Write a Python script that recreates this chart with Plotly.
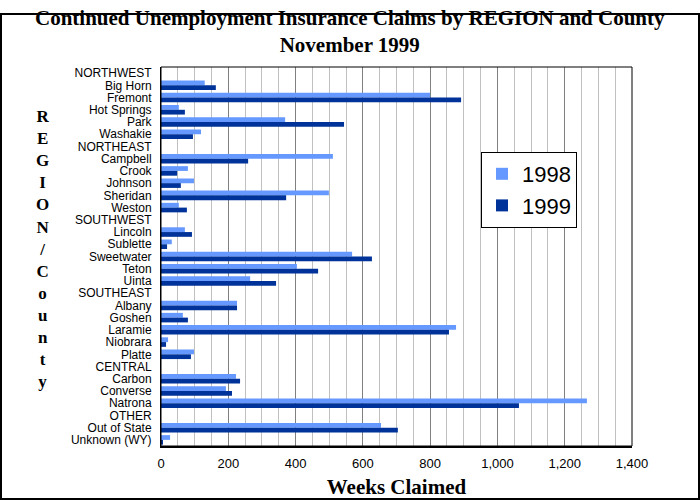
import plotly.graph_objects as go

# rows as they appear top to bottom; region headers carry no bars
rows = ['NORTHWEST', 'Big Horn', 'Fremont', 'Hot Springs', 'Park', 'Washakie',
        'NORTHEAST', 'Campbell', 'Crook', 'Johnson', 'Sheridan', 'Weston',
        'SOUTHWEST', 'Lincoln', 'Sublette', 'Sweetwater', 'Teton', 'Uinta',
        'SOUTHEAST', 'Albany', 'Goshen', 'Laramie', 'Niobrara', 'Platte',
        'CENTRAL', 'Carbon', 'Converse', 'Natrona',
        'OTHER', 'Out of State', 'Unknown (WY)']

weeks_1998 = [None, 130, 800, 53, 369, 119,
              None, 511, 80, 98, 499, 53,
              None, 71, 32, 568, 404, 265,
              None, 226, 65, 877, 21, 98,
              None, 223, 193, 1266,
              None, 654, 27]

weeks_1999 = [None, 163, 892, 71, 544, 95,
              None, 259, 48, 59, 372, 77,
              None, 92, 18, 627, 467, 342,
              None, 226, 80, 856, 15, 89,
              None, 235, 211, 1064,
              None, 704, 6]

x_ticks = [0, 200, 400, 600, 800, 1000, 1200, 1400]

W, H = 700, 500
L, R, T, B = 161, 68, 67, 54
pw, ph = W - L - R, H - T - B

fig = go.Figure()
fig.add_trace(go.Bar(y=rows, x=weeks_1998, name='1998', orientation='h',
                     marker=dict(color='#6699FF', line=dict(width=0))))
fig.add_trace(go.Bar(y=rows, x=weeks_1999, name='1999', orientation='h',
                     marker=dict(color='#003399', line=dict(width=0))))

fig.update_layout(
    width=W, height=H,
    margin=dict(l=L, r=R, t=T, b=B, autoexpand=False),
    paper_bgcolor='white', plot_bgcolor='white',
    barmode='group', bargap=0.22, bargroupgap=0,
    legend=dict(x=(481 - L) / pw, y=(H - B - 152) / ph, xanchor='left', yanchor='top',
                bgcolor='white', bordercolor='black', borderwidth=1,
                font=dict(family='Liberation Sans', size=22, color='black'),
                tracegroupgap=0),
    showlegend=True,
)

fig.update_xaxes(range=[0, 1400], tickvals=x_ticks, tickformat=',',
                 showgrid=True, gridcolor='#808080', gridwidth=1,
                 minor=dict(dtick=50, showgrid=True, gridcolor='#C0C0C0', gridwidth=1),
                 showline=True, linecolor='black', linewidth=2,
                 zeroline=False, ticks='', automargin=False, ticklabelstandoff=4,
                 tickfont=dict(family='Liberation Sans', size=13, color='black'),
                 title=dict(text='Weeks Claimed', standoff=10,
                            font=dict(family='Liberation Serif', size=21, color='black', weight='bold')))
fig.update_yaxes(categoryorder='array', categoryarray=rows, autorange='reversed',
                 dtick=1, showgrid=False, showline=True, linecolor='black', linewidth=1,
                 ticks='', ticklabelstandoff=6, automargin=False,
                 tickfont=dict(family='Liberation Sans', size=12, color='black'))

# plot frame (top/right) and outer picture frame
fig.add_shape(type='rect', xref='paper', yref='paper', x0=0, x1=1, y0=0, y1=1,
              line=dict(color='black', width=1))
fig.add_shape(type='rect', xref='paper', yref='paper',
              x0=-(L - 1) / pw, x1=(W - 1 - L) / pw,
              y0=-(B - 1) / ph, y1=(H - T - 1) / ph,
              line=dict(color='black', width=2))

# two-line title
fig.add_annotation(text='Continued Unemployment Insurance Claims by REGION and County<br>November 1999',
                   xref='paper', yref='paper', x=(350 - L) / pw, y=(H - B - 4) / ph,
                   xanchor='center', yanchor='top', showarrow=False, align='center',
                   font=dict(family='Liberation Serif', size=21, color='black', weight='bold'))

# stacked vertical axis title
fig.add_annotation(text='<br>'.join('REGION/County'), xref='paper', yref='paper',
                   x=(42 - L) / pw, y=(H - B - 249) / ph, xanchor='center', yanchor='middle',
                   showarrow=False, align='center',
                   font=dict(family='Liberation Serif', size=17, color='black', weight='bold'))

# drop the page's default body margin so the figure sits at the window corner
fig.write_html('out.html', config={'displayModeBar': False},
               post_script="document.body.style.margin='0';")
